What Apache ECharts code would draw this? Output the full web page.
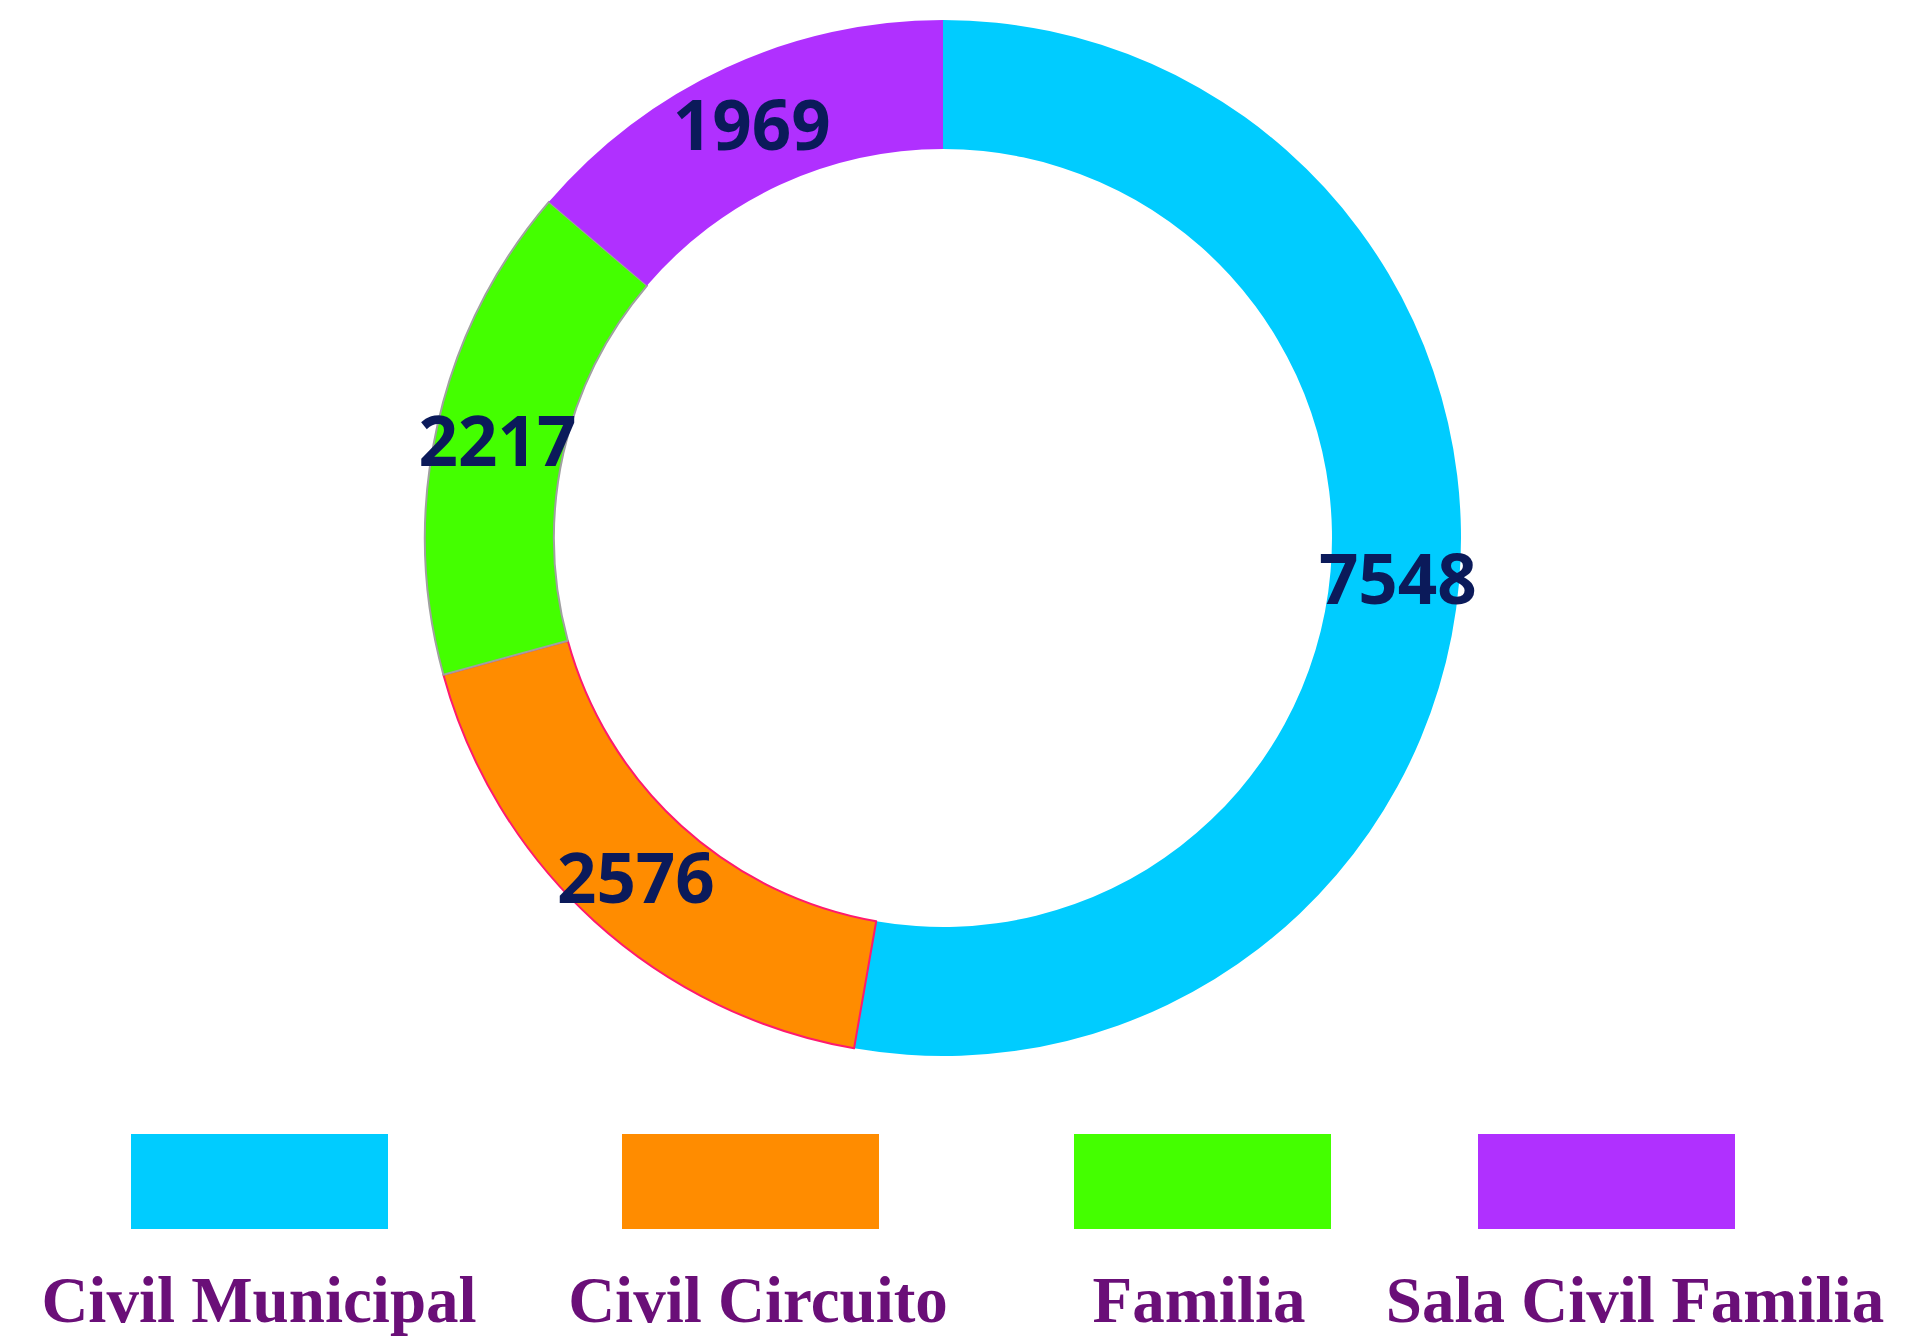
<!DOCTYPE html>
<html>
<head>
<meta charset="utf-8">
<style>
  html, body { margin: 0; padding: 0; background: #ffffff; }
  #chart { width: 1920px; height: 1337px; }
</style>
<script src="https://cdn.jsdelivr.net/npm/echarts@6/dist/echarts.min.js"></script>
</head>
<body>
<div id="chart"></div>
<script>
// Procesos por especialidad
const categories = ['Civil Municipal', 'Civil Circuito', 'Familia', 'Sala Civil Familia'];
const values = [7548, 2576, 2217, 1969];
const colors = ['#00ccff', '#ff8c00', '#44ff00', '#b030ff'];
const borderColors = [null, '#ff1a6e', '#a0a0a0', null];

// legend placement: swatch left edge and caption centre for each category
const swatchLeft = [131, 622, 1074, 1478];
const captionCentre = [254, 753, 1194, 1630];

const chart = echarts.init(document.getElementById('chart'), null, { renderer: 'svg' });

const pieData = categories.map((name, i) => {
  const style = { color: colors[i] };
  if (borderColors[i]) { style.borderColor = borderColors[i]; style.borderWidth = 2; }
  return { name: name, value: values[i], itemStyle: style };
});

const legends = [];
categories.forEach((name, i) => {
  // colour swatch
  legends.push({
    data: [name],
    left: swatchLeft[i],
    top: 1134,
    icon: 'rect',
    itemWidth: 257,
    itemHeight: 95,
    itemGap: 0,
    padding: 0,
    selectedMode: false,
    itemStyle: { borderWidth: 0 },
    formatter: () => '',
    textStyle: { fontSize: 1 }
  });
  // caption under the swatch
  legends.push({
    data: [name],
    left: captionCentre[i] - 300,
    top: 1267,
    icon: 'rect',
    itemWidth: 0,
    itemHeight: 0,
    itemGap: 0,
    textGap: 0,
    padding: 0,
    selectedMode: false,
    itemStyle: { borderWidth: 0, opacity: 0 },
    formatter: '{t|{name}}',
    textStyle: {
      rich: {
        t: {
          width: 600,
          align: 'center',
          fontFamily: '"Liberation Serif", serif',
          fontWeight: 'bold',
          fontSize: 65,
          color: '#6a0f78'
        }
      }
    }
  });
});

chart.setOption({
  backgroundColor: '#ffffff',
  animation: false,
  legend: legends,
  series: [{
    type: 'pie',
    center: [943, 538],
    radius: [389, 518],
    startAngle: 90,
    clockwise: true,
    avoidLabelOverlap: false,
    emphasis: { disabled: true },
    label: {
      show: true,
      position: 'inside',
      formatter: '{c}',
      fontFamily: '"Open Sans", Lato, sans-serif',
      fontWeight: 'bold',
      fontSize: 69,
      color: '#0b1a5a'
    },
    labelLine: { show: false },
    data: pieData
  }]
});
</script>
</body>
</html>
